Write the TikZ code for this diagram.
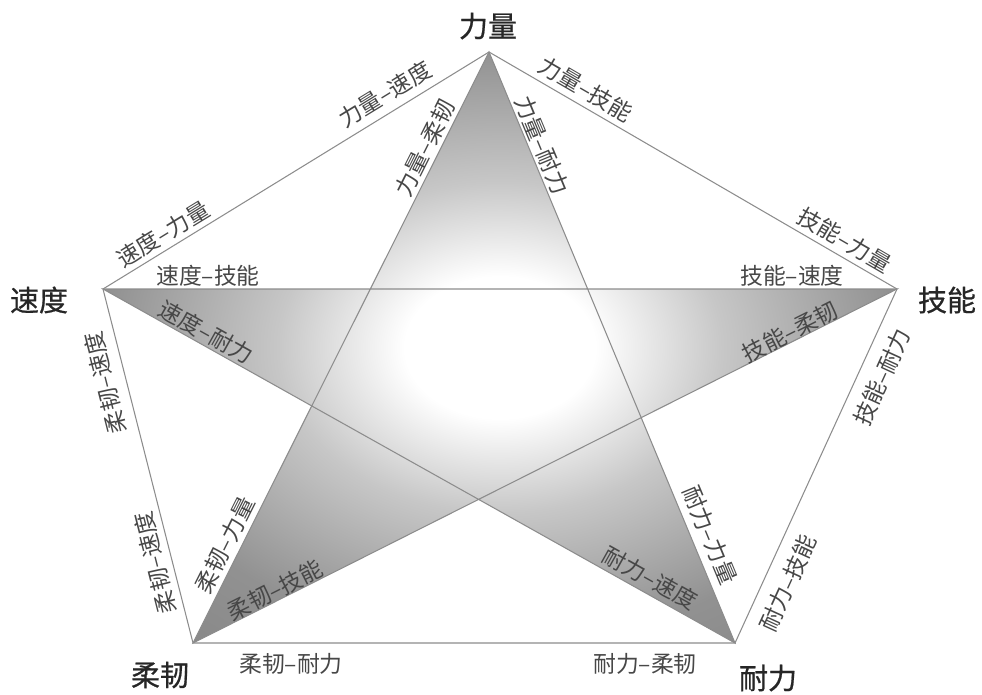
\documentclass[tikz,border=0pt]{standalone}
\usepackage{fontspec}
\newfontfamily\cjk{Noto Sans CJK SC}
\newfontfamily\cjkheavy{Noto Sans CJK SC}[FakeBold=0.7]
\pgfdeclareradialshading{starglow}{\pgfpoint{0bp}{0bp}}{color(0bp)=(white); color(6bp)=(white); color(14bp)=(black!22); color(25bp)=(black!43); color(35bp)=(black!48); color(50bp)=(black!50)}
\tikzset{
    skill/.style={font=\cjkheavy\fontsize{16.5}{16.5}\selectfont, text=black!85, inner sep=0pt},
    pair/.style={font=\cjk\fontsize{13}{13}\selectfont, text=black!72, inner sep=0pt},
    rim/.style={draw=black!45, line width=0.6pt}
}
\begin{document}
\begin{tikzpicture}[x=0.02cm, y=-0.02cm]
    \useasboundingbox (0, 0) rectangle (982, 694);
    \coordinate (T) at (489, 52);
    \coordinate (R) at (897, 289);
    \coordinate (BR) at (735, 643);
    \coordinate (BL) at (193, 643);
    \coordinate (L) at (103, 289);
    % star
    \shade[shading=starglow] (T) -- (BL) -- (R) -- (L) -- (BR) -- cycle;
    \draw[rim] (T) -- (BL) -- (R) -- (L) -- (BR) -- cycle;
    % pentagon
    \draw[rim] (T) -- (R) -- (BR) -- (BL) -- (L) -- cycle;
    % vertex names
    \node[skill] (liliang) at (488, 26) {力量};
    \node[skill] (jineng) at (947, 300) {技能};
    \node[skill] (naili) at (768, 678) {耐力};
    \node[skill] (rouren) at (160, 675) {柔韧};
    \node[skill] (sudu) at (39, 300) {速度};
    % outer edges
    \node[pair, rotate=31.5] (ls) at (385, 94) {力量–速度};
    \node[pair, rotate=31.5] (sl) at (163, 234) {速度–力量};
    \node[pair, rotate=-30.2] (lj) at (586, 89) {力量–技能};
    \node[pair, rotate=-30.2] (jl) at (845, 240) {技能–力量};
    \node[pair, rotate=65.4] (jn) at (882, 377) {技能–耐力};
    \node[pair, rotate=65.4] (nj) at (788, 583) {耐力–技能};
    \node[pair] (nr) at (645, 664) {耐力–柔韧};
    \node[pair] (rn) at (291, 664) {柔韧–耐力};
    \node[pair, rotate=104.3] (rs1) at (155, 563) {柔韧–速度};
    \node[pair, rotate=104.3] (rs2) at (105, 383) {柔韧–速度};
    % star lines
    \node[pair] (sj) at (208, 276) {速度–技能};
    \node[pair] (js) at (792, 276) {技能–速度};
    \node[pair, rotate=-29.25] (sn) at (206, 332) {速度–耐力};
    \node[pair, rotate=-29.25] (ns) at (650, 578) {耐力–速度};
    \node[pair, rotate=26.7] (jr) at (790, 332) {技能–柔韧};
    \node[pair, rotate=26.7] (rj) at (275, 590) {柔韧–技能};
    \node[pair, rotate=63.4] (lr) at (425, 148) {力量–柔韧};
    \node[pair, rotate=63.4] (rl) at (225, 545) {柔韧–力量};
    \node[pair, rotate=-67.4] (ln) at (542, 145) {力量–耐力};
    \node[pair, rotate=-67.4] (nl) at (710, 535) {耐力–力量};
\end{tikzpicture}
\end{document}
